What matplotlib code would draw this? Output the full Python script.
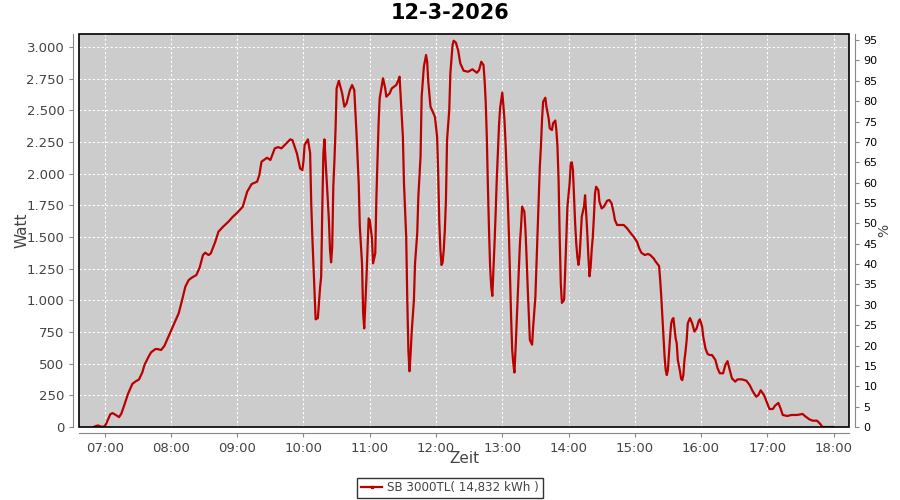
import matplotlib
matplotlib.use("Agg")
import matplotlib.pyplot as plt
from matplotlib.patches import Rectangle
from matplotlib.lines import Line2D

title = "12-3-2026"
series_name = "SB 3000TL( 14,832 kWh )"

times = [
    "06:50", "06:52", "06:54", "06:56", "06:59", "07:01", "07:03", "07:05", "07:07", "07:10",
    "07:13", "07:15", "07:18", "07:21", "07:25", "07:28", "07:31", "07:34", "07:36", "07:40",
    "07:42", "07:46", "07:48", "07:51", "07:54", "07:57", "08:01", "08:04", "08:07", "08:10",
    "08:13", "08:16", "08:19", "08:23", "08:26", "08:29", "08:31", "08:34", "08:36", "08:40",
    "08:43", "08:47", "08:52", "08:56", "09:00", "09:05", "09:09", "09:13", "09:18", "09:20",
    "09:22", "09:27", "09:30", "09:34", "09:37", "09:40", "09:44", "09:48", "09:50", "09:54",
    "09:57", "09:59", "10:00", "10:01", "10:04", "10:06", "10:07", "10:08", "10:10", "10:11",
    "10:13", "10:15", "10:16", "10:17", "10:18", "10:19", "10:20", "10:21", "10:23", "10:24",
    "10:25", "10:26", "10:27", "10:28", "10:29", "10:30", "10:32", "10:35", "10:37", "10:39",
    "10:42", "10:44", "10:46", "10:48", "10:50", "10:51", "10:53", "10:54", "10:55", "10:56",
    "10:57", "10:59", "11:00", "11:02", "11:03", "11:05", "11:06", "11:08", "11:09", "11:12",
    "11:14", "11:15", "11:18", "11:20", "11:24", "11:26", "11:27", "11:28", "11:30", "11:31",
    "11:33", "11:34", "11:35", "11:36", "11:37", "11:38", "11:40", "11:41", "11:43", "11:44",
    "11:46", "11:47", "11:49", "11:51", "11:52", "11:53", "11:55", "11:57", "11:59", "12:01",
    "12:02", "12:03", "12:04", "12:05", "12:06", "12:07", "12:08", "12:09", "12:10", "12:12",
    "12:13", "12:15", "12:16", "12:18", "12:20", "12:22", "12:25", "12:29", "12:33", "12:37",
    "12:39", "12:41", "12:43", "12:44", "12:45", "12:46", "12:47", "12:48", "12:49", "12:50",
    "12:51", "12:52", "12:53", "12:54", "12:55", "12:56", "12:57", "12:58", "13:00", "13:01",
    "13:02", "13:03", "13:04", "13:05", "13:06", "13:07", "13:08", "13:09", "13:10", "13:11",
    "13:12", "13:13", "13:14", "13:15", "13:16", "13:17", "13:18", "13:20", "13:21", "13:22",
    "13:23", "13:24", "13:25", "13:27", "13:28", "13:30", "13:31", "13:32", "13:33", "13:34",
    "13:35", "13:36", "13:37", "13:39", "13:40", "13:42", "13:43", "13:45", "13:46", "13:48",
    "13:49", "13:50", "13:51", "13:52", "13:53", "13:54", "13:56", "13:57", "13:58", "13:59",
    "14:01", "14:02", "14:03", "14:04", "14:05", "14:06", "14:07", "14:08", "14:09", "14:10",
    "14:11", "14:12", "14:14", "14:15", "14:16", "14:17", "14:18", "14:19", "14:20", "14:21",
    "14:22", "14:23", "14:24", "14:25", "14:27", "14:28", "14:30", "14:32", "14:35", "14:37",
    "14:39", "14:41", "14:42", "14:44", "14:47", "14:50", "14:53", "14:56", "14:59", "15:02",
    "15:04", "15:06", "15:09", "15:12", "15:14", "15:17", "15:19", "15:22", "15:23", "15:24",
    "15:25", "15:26", "15:27", "15:28", "15:29", "15:30", "15:31", "15:32", "15:33", "15:34",
    "15:35", "15:36", "15:37", "15:38", "15:39", "15:41", "15:42", "15:43", "15:44", "15:45",
    "15:46", "15:47", "15:48", "15:50", "15:52", "15:54", "15:56", "15:58", "15:59", "16:01",
    "16:02", "16:04", "16:06", "16:08", "16:10", "16:13", "16:15", "16:17", "16:20", "16:22",
    "16:24", "16:26", "16:28", "16:31", "16:33", "16:37", "16:41", "16:44", "16:47", "16:50",
    "16:52", "16:54", "16:57", "16:59", "17:02", "17:05", "17:07", "17:10", "17:12", "17:14",
    "17:18", "17:22", "17:27", "17:32", "17:34", "17:38", "17:41", "17:45", "17:48", "17:50",
    "18:00",
]

watts = [
    0, 8, 12, 5, 0, 20, 60, 100, 110, 95,
    78, 105, 180, 260, 340, 360, 375, 430, 490, 560,
    590, 616, 615, 608, 640, 700, 779, 840, 898, 1000,
    1108, 1160, 1180, 1200, 1260, 1358, 1376, 1358, 1370, 1460,
    1542, 1580, 1621, 1660, 1692, 1739, 1858, 1918, 1937, 1990,
    2095, 2126, 2108, 2200, 2210, 2200, 2235, 2271, 2265, 2161,
    2040, 2029, 2100, 2226, 2271, 2163, 1768, 1502, 1055, 850,
    860, 1100, 1187, 1713, 2161, 2271, 2100, 1950, 1634, 1400,
    1300, 1420, 1900, 2100, 2345, 2674, 2734, 2634, 2529, 2555,
    2660, 2700, 2660, 2319, 1924, 1581, 1292, 898, 779, 977,
    1174, 1647, 1634, 1489, 1292, 1371, 1805, 2398, 2595, 2753,
    2674, 2608, 2634, 2674, 2700, 2740, 2766, 2608, 2292, 1924,
    1502, 1000, 600, 440, 582, 753, 1003, 1292, 1529, 1818,
    2134, 2608, 2845, 2937, 2884, 2726, 2529, 2489, 2450, 2292,
    2000, 1608, 1397, 1279, 1300, 1397, 1555, 1792, 2266, 2503,
    2792, 3016, 3050, 3035, 2976, 2871, 2813, 2805, 2824, 2797,
    2818, 2884, 2858, 2740, 2568, 2292, 1897, 1555, 1266, 1108,
    1035, 1240, 1450, 1687, 1950, 2161, 2371, 2516, 2640, 2542,
    2424, 2240, 2003, 1792, 1529, 1187, 871, 608, 503, 430,
    608, 819, 1042, 1240, 1450, 1581, 1740, 1700, 1555, 1345,
    1108, 898, 687, 650, 792, 1029, 1292, 1555, 1818, 2055,
    2213, 2424, 2568, 2600, 2529, 2437, 2358, 2345, 2398, 2420,
    2345, 2213, 1950, 1500, 1134, 980, 1003, 1240, 1502, 1739,
    1924, 2082, 2090, 2029, 1818, 1608, 1450, 1345, 1280, 1345,
    1502, 1660, 1740, 1830, 1687, 1529, 1345, 1190, 1260, 1400,
    1502, 1660, 1845, 1897, 1871, 1779, 1726, 1739, 1787, 1792,
    1766, 1687, 1634, 1595, 1595, 1595, 1569, 1534, 1502, 1463,
    1411, 1376, 1358, 1366, 1358, 1332, 1305, 1271, 1161, 1029,
    871, 713, 555, 450, 410, 450, 582, 713, 819, 850,
    860, 780, 700, 661, 529, 437, 380, 370, 411, 529,
    600, 687, 819, 860, 819, 753, 779, 839, 850, 792,
    713, 621, 576, 568, 568, 529, 463, 424, 424, 490,
    520, 450, 384, 358, 376, 376, 366, 332, 279, 239,
    253, 290, 253, 208, 142, 142, 168, 190, 147, 95,
    87, 95, 95, 103, 87, 61, 50, 50, 24, 0,
    0,
]

x_ticks = ["07:00", "08:00", "09:00", "10:00", "11:00", "12:00",
           "13:00", "14:00", "15:00", "16:00", "17:00", "18:00"]
y_ticks = [0, 250, 500, 750, 1000, 1250, 1500, 1750, 2000, 2250, 2500, 2750, 3000]
y_tick_labels = ["0", "250", "500", "750", "1.000", "1.250", "1.500", "1.750",
                 "2.000", "2.250", "2.500", "2.750", "3.000"]
pct_ticks = list(range(0, 100, 5))


def to_hours(s):
    h, m = s.split(":")
    return int(h) + int(m) / 60.0


xs = [to_hours(t) for t in times]
xt = [to_hours(t) for t in x_ticks]

fig = plt.figure(figsize=(9, 5), dpi=100)
ax = fig.add_axes([79 / 900, 1 - 427 / 500, (849 - 79) / 900, (427 - 34) / 500])
ax.set_facecolor("#cccccc")

line_color = "#bb0000"
ax.plot(xs, watts, color=line_color, linewidth=1.6, zorder=3)

ax.set_xlim(6 + 36.7 / 60, 18 + 14 / 60)
ax.set_ylim(0, 3103)

ax.set_xticks(xt)
ax.set_xticklabels(x_ticks)
ax.set_yticks(y_ticks)
ax.set_yticklabels(y_tick_labels)

ax.grid(True, color="white", linestyle=(0, (2, 2)), linewidth=0.8, zorder=1)
ax.set_axisbelow(True)

grey = "#444444"
ax.tick_params(axis="both", colors="#888888", labelcolor=grey, labelsize=9.5,
               length=3, width=0.8, direction="out")
for s in ["left", "bottom"]:
    ax.spines[s].set_position(("outward", 4))
    ax.spines[s].set_color("#888888")
for s in ["top", "right"]:
    ax.spines[s].set_visible(False)

ax.add_patch(Rectangle((0, 0), 1, 1, transform=ax.transAxes, fill=False,
                       edgecolor="black", linewidth=1.2, zorder=5, clip_on=False))

ax.set_xlabel("Zeit", color=grey, fontsize=11)
ax.set_ylabel("Watt", color=grey, fontsize=11)
ax.xaxis.set_label_coords(0.5, (427 - 451) / 393)
ax.yaxis.set_label_coords((29 - 79) / 770, 0.5)

ax2 = ax.twinx()
ax2.set_ylim(0, 96.5)
ax2.set_yticks(pct_ticks)
ax2.set_yticklabels([str(p) for p in pct_ticks])
ax2.tick_params(axis="y", colors="#888888", labelcolor="black", labelsize=8,
                length=3, width=0.8)
for s in ["left", "bottom", "top"]:
    ax2.spines[s].set_visible(False)
ax2.spines["right"].set_position(("outward", 4))
ax2.spines["right"].set_color("#888888")
ax2.set_ylabel("%", fontsize=10, color=grey)
ax2.yaxis.set_label_coords((877 - 79) / 770, 0.5)

fig.text(0.5, 1 - 13 / 500, title, ha="center", va="center",
         fontsize=15, fontweight="bold", color="black")

handle = Line2D([0], [0], color=line_color, linewidth=1.6, marker="s", markersize=2)
leg = fig.legend([handle], [series_name], loc="center", bbox_to_anchor=(0.5, 1 - 488 / 500),
                 frameon=True, fancybox=False, fontsize=8.6, handlelength=1.8,
                 handletextpad=0.4, borderpad=0.3, borderaxespad=0)
leg.get_frame().set_edgecolor("black")
leg.get_frame().set_linewidth(1.0)
for t in leg.get_texts():
    t.set_color(grey)

fig.savefig("out.png", dpi=100)
